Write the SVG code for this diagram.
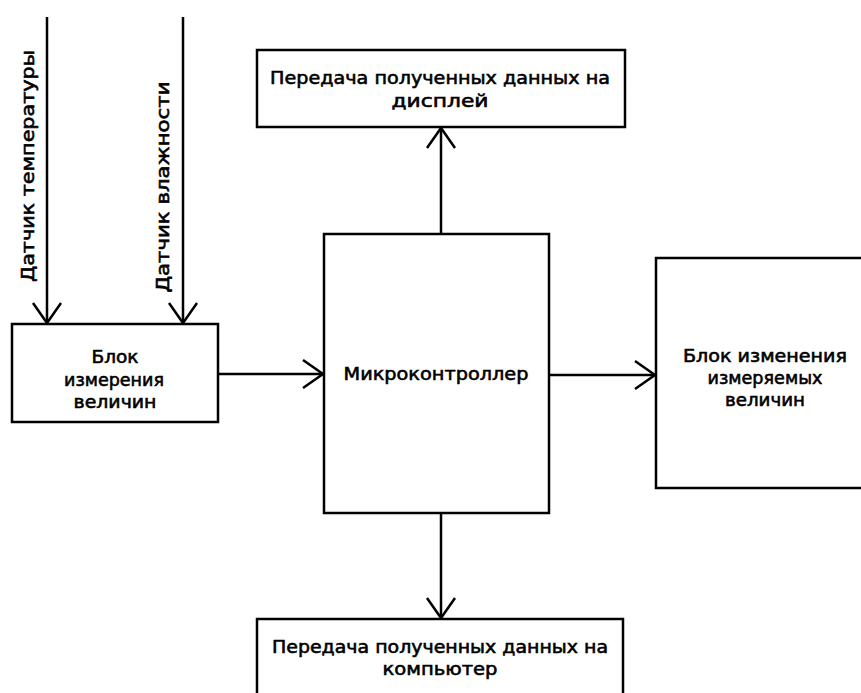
<svg xmlns="http://www.w3.org/2000/svg" width="861" height="693" viewBox="0 0 861 693">
<style>
.box{fill:#fff;stroke:#000;stroke-width:2.5}
.ln{fill:none;stroke:#000;stroke-width:2.5}
.ah{fill:none;stroke:#000;stroke-width:2.5;stroke-linejoin:miter}
text{font-family:"DejaVu Sans","Liberation Sans",sans-serif;font-size:18px;fill:#000;stroke:#000;stroke-width:0.6;text-anchor:middle;dominant-baseline:central}
</style>
<rect width="861" height="693" fill="#fff"/>
<g id="connectors">
<line class="ln" x1="47" y1="17" x2="47" y2="323"/>
<polyline class="ah" points="33,303 47,323 61,303"/>
<line class="ln" x1="183" y1="17" x2="183" y2="323"/>
<polyline class="ah" points="169,303 183,323 197,303"/>
<line class="ln" x1="218" y1="374" x2="323" y2="374"/>
<polyline class="ah" points="303,360 323,374 303,388"/>
<line class="ln" x1="549" y1="375" x2="655" y2="375"/>
<polyline class="ah" points="635,361 655,375 635,389"/>
<line class="ln" x1="441" y1="234" x2="441" y2="128"/>
<polyline class="ah" points="427,148 441,128 455,148"/>
<line class="ln" x1="441" y1="513" x2="441" y2="618"/>
<polyline class="ah" points="427,598 441,618 455,598"/>
</g>
<g id="label-temp"><text transform="translate(27,166) rotate(-90)" textLength="232" lengthAdjust="spacingAndGlyphs">Датчик температуры</text></g>
<g id="label-hum"><text transform="translate(162,187) rotate(-90)" textLength="211" lengthAdjust="spacingAndGlyphs">Датчик влажности</text></g>
<g id="node-measure">
<rect class="box" x="12" y="324" width="206" height="98"/>
<text x="115" y="356" textLength="47" lengthAdjust="spacingAndGlyphs">Блок</text>
<text x="114" y="379" textLength="100" lengthAdjust="spacingAndGlyphs">измерения</text>
<text x="115" y="401" textLength="83" lengthAdjust="spacingAndGlyphs">величин</text>
</g>
<g id="node-display">
<rect class="box" x="257" y="50" width="368" height="77"/>
<text x="440" y="77" textLength="340" lengthAdjust="spacingAndGlyphs">Передача полученных данных на</text>
<text x="440" y="100" textLength="97" lengthAdjust="spacingAndGlyphs">дисплей</text>
</g>
<g id="node-mcu">
<rect class="box" x="324" y="234" width="225" height="279"/>
<text x="436" y="373" textLength="185" lengthAdjust="spacingAndGlyphs">Микроконтроллер</text>
</g>
<g id="node-change">
<rect class="box" x="656" y="258" width="215" height="230"/>
<text x="765" y="355" textLength="164" lengthAdjust="spacingAndGlyphs">Блок изменения</text>
<text x="765" y="377" textLength="115" lengthAdjust="spacingAndGlyphs">измеряемых</text>
<text x="765" y="399" textLength="80" lengthAdjust="spacingAndGlyphs">величин</text>
</g>
<g id="node-pc">
<rect class="box" x="257" y="619" width="366" height="90"/>
<text x="440" y="646" textLength="336" lengthAdjust="spacingAndGlyphs">Передача полученных данных на</text>
<text x="440" y="668" textLength="115" lengthAdjust="spacingAndGlyphs">компьютер</text>
</g>
</svg>
